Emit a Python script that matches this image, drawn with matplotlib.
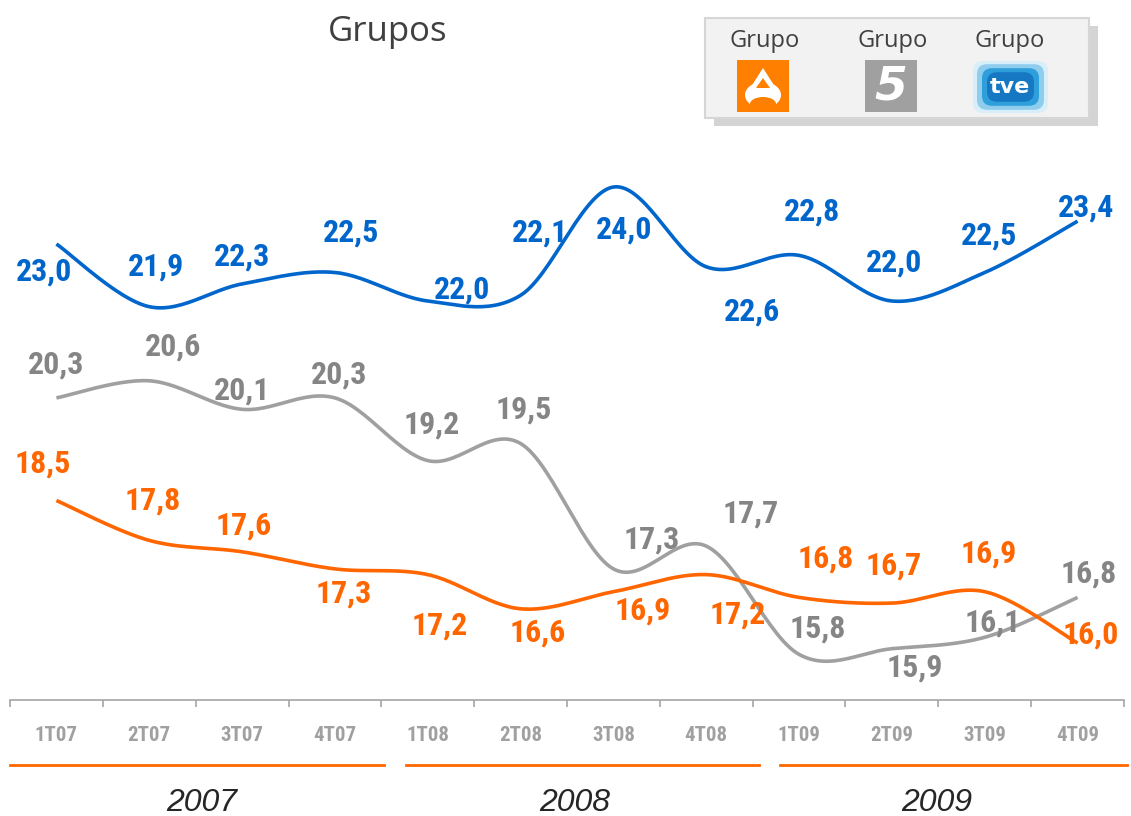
#!/usr/bin/env python3
"""Quarterly audience share by TV group, 2007-2009."""

import os

import numpy as np
import matplotlib

matplotlib.use("Agg")
import matplotlib.pyplot as plt
from matplotlib import font_manager
from matplotlib.font_manager import FontProperties
from matplotlib.patches import Rectangle, FancyBboxPatch, Polygon, Ellipse

quarters = ["1T07", "2T07", "3T07", "4T07", "1T08", "2T08", "3T08", "4T08",
            "1T09", "2T09", "3T09", "4T09"]
years = ["2007", "2008", "2009"]
tve = [23.0, 21.9, 22.3, 22.5, 22.0, 22.1, 24.0, 22.6, 22.8, 22.0, 22.5, 23.4]
telecinco = [20.3, 20.6, 20.1, 20.3, 19.2, 19.5, 17.3, 17.7, 15.8, 15.9, 16.1, 16.8]
antena3 = [18.5, 17.8, 17.6, 17.3, 17.2, 16.6, 16.9, 17.2, 16.8, 16.7, 16.9, 16.0]

# label offsets in pixels (dx, dy), hand placed like the original slide
tve_off = [(-12, -28), (7, 40), (0, 27), (16, 40), (34, 11), (19, 63), (11, -43), (46, -45),
           (13, 44), (2, 38), (4, 37), (8, 14)]
t5_off = [(0, 33), (24, 34), (0, 19), (4, 23), (4, 36), (3, 34), (38, 29), (44, 33),
          (19, 26), (23, -19), (8, 15), (11, 24)]
a3_off = [(-14, 37), (3, 40), (2, 26), (9, -25), (12, -51), (17, -24), (29, -19), (31, -40),
          (27, 39), (2, 38), (4, 38), (13, 8)]

BLUE = "#0066CC"
GRAY = "#A0A0A0"
GRAY_TXT = "#858585"
ORANGE = "#FF6600"


def find_font(patterns):
    files = font_manager.findSystemFonts() + [f.fname for f in font_manager.fontManager.ttflist]
    for pat in patterns:
        for path in files:
            if os.path.basename(path).lower().replace(" ", "").replace("_", "-") == pat.lower():
                return path
    return None


narrow_bold = find_font(["LiberationSansNarrow-Bold.ttf", "ArialNarrowBold.ttf",
                         "RobotoCondensed-Bold.ttf", "NotoSans-CondensedBold.ttf",
                         "OpenSans-CondensedBold.ttf", "DejaVuSansCondensed-Bold.ttf"])


def narrow(size):
    if narrow_bold:
        return FontProperties(fname=narrow_bold, size=size)
    return FontProperties(family="DejaVu Sans", weight="bold", stretch="condensed", size=size)


def smooth(values, steps=30):
    # Excel style smoothed line: cubic bezier with catmull-rom control points
    x = np.arange(len(values), dtype=float)
    y = np.asarray(values, dtype=float)
    px = np.concatenate([[x[0]], x, [x[-1]]])
    py = np.concatenate([[y[0]], y, [y[-1]]])
    t = np.linspace(0, 1, steps)[:, None]
    out_x, out_y = [], []
    for i in range(len(values) - 1):
        p0 = np.array([px[i + 1], py[i + 1]])
        p3 = np.array([px[i + 2], py[i + 2]])
        c1 = p0 + (p3 - np.array([px[i], py[i]])) / 6
        c2 = p3 - (np.array([px[i + 3], py[i + 3]]) - p0) / 6
        pts = ((1 - t) ** 3) * p0 + 3 * ((1 - t) ** 2) * t * c1 + 3 * (1 - t) * t ** 2 * c2 + t ** 3 * p3
        out_x.extend(pts[:, 0])
        out_y.extend(pts[:, 1])
    return np.array(out_x), np.array(out_y)


fig = plt.figure(figsize=(11.31, 8.16), dpi=100)
ax = fig.add_axes([10 / 1131, 116 / 816, 1114 / 1131, 700 / 816])
ax.set_xlim(-0.5, 11.5)
ax.set_ylim(15.0, 15.0 + 700 / 57)
ax.patch.set_alpha(0)

for vals, offs, color, tcolor in [(tve, tve_off, BLUE, BLUE),
                                  (telecinco, t5_off, GRAY, GRAY_TXT),
                                  (antena3, a3_off, ORANGE, ORANGE)]:
    sx, sy = smooth(vals)
    ax.plot(sx, sy, color=color, lw=2.6, solid_capstyle="butt")
    for i, v in enumerate(vals):
        ax.annotate(f"{v:.1f}".replace(".", ","), (i, v), xytext=offs[i],
                    textcoords="offset pixels", ha="center", va="center",
                    fontproperties=narrow(23), color=tcolor)

for side in ["top", "right", "left"]:
    ax.spines[side].set_visible(False)
ax.spines["bottom"].set_color("#A6A6A6")
ax.spines["bottom"].set_linewidth(1.2)
ax.set_yticks([])
ax.set_xticks(range(len(quarters)))
ax.set_xticklabels(quarters, fontproperties=narrow(15), color="#A0A0A0")
ax.tick_params(axis="x", which="major", length=0, pad=19)
ax.set_xticks(np.arange(-0.5, 12, 1), minor=True)
ax.tick_params(axis="x", which="minor", length=5, width=1.2, color="#A6A6A6", direction="out")

# year brackets
trans = ax.get_xaxis_transform()
for (x0, x1), xc, yr in zip([(-0.5, 3.53), (3.77, 7.57), (7.79, 11.53)], [1.57, 5.58, 9.48], years):
    ax.plot([x0, x1], [-0.093, -0.093], transform=trans, color=ORANGE, lw=2, clip_on=False)
    ax.text(xc, -0.147, yr, transform=trans, ha="center", va="center", fontsize=23,
            style="italic", color="#262626", family="Liberation Sans")

# overlay in pixel coordinates for title and legend
ov = fig.add_axes([0, 0, 1, 1])
ov.set_xlim(0, 1131)
ov.set_ylim(816, 0)
ov.axis("off")
ov.patch.set_alpha(0)
ov.text(388, 32, "Grupos", ha="center", va="center", fontsize=25, color="#404040", family="Open Sans")

ov.add_patch(Rectangle((714, 26), 384, 100, facecolor="#D4D4D4", edgecolor="none"))
ov.add_patch(Rectangle((705, 18), 384, 100, facecolor="#F2F2F2", edgecolor="#D6D6D6", lw=1.5))
for xc in [765, 893, 1010]:
    ov.text(xc, 41, "Grupo", ha="center", va="center", fontsize=17, color="#404040", family="Open Sans")

# antena 3 logo
ov.add_patch(Rectangle((737, 60), 52, 52, facecolor="#FF8000", edgecolor="none"))
ov.add_patch(Ellipse((763, 95), 36, 26, facecolor="white", edgecolor="none"))
ov.add_patch(Ellipse((763, 104), 26, 14, facecolor="#FF8000", edgecolor="none"))
ov.add_patch(Polygon([(763, 68), (749, 90), (777, 90)], closed=True, facecolor="white", edgecolor="none"))
ov.add_patch(Polygon([(763, 78), (756, 88), (770, 88)], closed=True, facecolor="#FF8000", edgecolor="none"))
# telecinco logo
ov.add_patch(Rectangle((865, 60), 52, 52, facecolor="#A0A0A0", edgecolor="none"))
ov.text(891, 87, "5", ha="center", va="center", fontsize=34, fontweight="bold", style="italic",
        color="white", family="DejaVu Sans")
# tve logo
for pad, col in [(0, "#D8EEF9"), (4, "#8FCDEE"), (9, "#2E9FDB"), (14, "#1678C2")]:
    ov.add_patch(FancyBboxPatch((973 + pad, 61 + pad * 0.8), 75 - 2 * pad, 52 - 1.6 * pad,
                                boxstyle="round,pad=0,rounding_size=10", facecolor=col, edgecolor="none"))
ov.text(1010, 87, "tve", ha="center", va="center", fontsize=16, fontweight="bold", color="white",
        family="DejaVu Sans")

fig.savefig("out.png", dpi=100)
